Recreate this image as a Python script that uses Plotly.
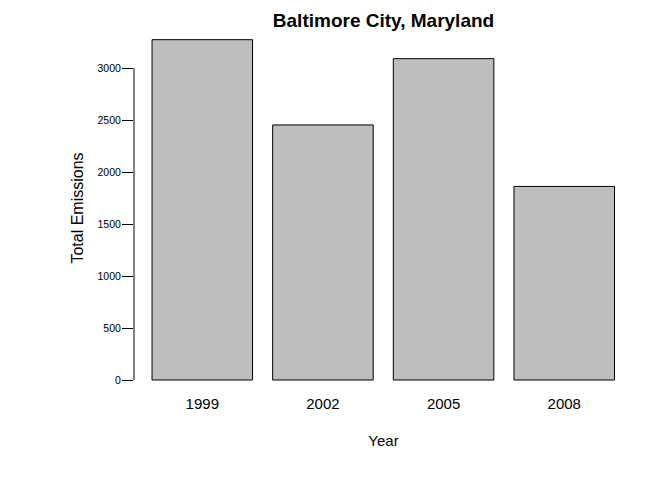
import plotly.graph_objects as go

years = ["1999", "2002", "2005", "2008"]
emissions = [3274.18, 2453.92, 3091.35, 1862.28]
ytick_vals = [0, 500, 1000, 1500, 2000, 2500, 3000]
ytick_text = ["0", "500", "1000", "1500", "2000", "2500", "3000"]

FONT = "Liberation Sans, Arial, sans-serif"

fig = go.Figure(
    go.Bar(
        x=years,
        y=emissions,
        marker=dict(color="#BEBEBE", line=dict(color="black", width=1)),
        hoverinfo="x+y",
    )
)

fig.update_layout(
    width=672,
    height=480,
    margin=dict(l=134, r=39, t=26, b=90, autoexpand=False),
    paper_bgcolor="white",
    plot_bgcolor="white",
    bargap=0.1667,
    showlegend=False,
    font=dict(family=FONT, color="black"),
    title=dict(
        text="<b>Baltimore City, Maryland</b>",
        font=dict(family=FONT, size=19, color="black"),
        x=0.5,
        xref="paper",
        xanchor="center",
        y=1 - 20.8 / 480,
        yref="container",
        yanchor="middle",
    ),
    xaxis=dict(
        type="category",
        range=[-0.566, 3.570],
        showline=False,
        showgrid=False,
        zeroline=False,
        ticks="",
        ticklabelstandoff=3,
        tickfont=dict(family=FONT, size=15, color="black"),
        title=dict(text="Year", font=dict(family=FONT, size=15, color="black"), standoff=24),
        automargin=False,
    ),
    yaxis=dict(
        range=[-96.2, 3405.8],
        showline=False,
        showgrid=False,
        zeroline=False,
        ticks="outside",
        ticklen=11,
        tickwidth=1,
        tickcolor="black",
        tickvals=ytick_vals,
        ticktext=ytick_text,
        ticklabelstandoff=-1,
        tickfont=dict(family=FONT, size=10.5, color="black"),
        title=dict(text="Total Emissions", font=dict(family=FONT, size=16, color="black"), standoff=9),
        automargin=False,
    ),
)

# R-style axis line spanning only the tick range
fig.add_shape(
    type="line",
    xref="paper",
    yref="y",
    x0=0,
    x1=0,
    y0=min(ytick_vals),
    y1=max(ytick_vals),
    line=dict(color="black", width=1),
)

fig.write_html("out.html")
